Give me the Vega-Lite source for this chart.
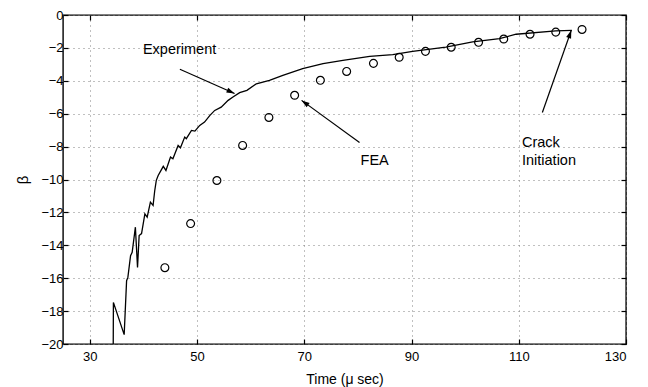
{
  "$schema": "https://vega.github.io/schema/vega-lite/v6.json",
  "width": 563,
  "height": 329,
  "autosize": "none",
  "padding": {"left": 63, "top": 15, "right": 22, "bottom": 43},
  "background": "white",
  "config": {
    "view": {"stroke": "black", "strokeWidth": 1.4},
    "axis": {
      "domain": false,
      "labelFont": "Liberation Sans",
      "labelFontSize": 13,
      "labelColor": "black",
      "titleFont": "Liberation Sans",
      "titleFontSize": 14,
      "titleFontWeight": "normal",
      "titleColor": "black",
      "tickColor": "black",
      "tickSize": -5,
      "tickWidth": 1.2,
      "gridColor": "#808080",
      "gridDash": [1, 4],
      "gridWidth": 1
    }
  },
  "datasets": {
    "experiment": [
      {"t": 34.37, "beta": -20.0},
      {"t": 34.4, "beta": -17.47},
      {"t": 36.41, "beta": -19.43},
      {"t": 36.86, "beta": -16.15},
      {"t": 37.1, "beta": -15.95},
      {"t": 37.6, "beta": -14.63},
      {"t": 37.9, "beta": -14.42},
      {"t": 38.5, "beta": -12.9},
      {"t": 38.9, "beta": -15.34},
      {"t": 39.2, "beta": -13.41},
      {"t": 39.65, "beta": -13.29},
      {"t": 40.27, "beta": -12.09},
      {"t": 40.7, "beta": -12.29},
      {"t": 41.3, "beta": -11.38},
      {"t": 41.8, "beta": -11.58},
      {"t": 42.1, "beta": -10.7},
      {"t": 42.4, "beta": -10.05},
      {"t": 42.75, "beta": -9.76},
      {"t": 43.7, "beta": -9.2},
      {"t": 44.2, "beta": -9.45},
      {"t": 45.05, "beta": -8.64},
      {"t": 45.5, "beta": -8.74},
      {"t": 46.47, "beta": -7.93},
      {"t": 46.9, "beta": -8.07},
      {"t": 47.7, "beta": -7.42},
      {"t": 48.0, "beta": -7.52},
      {"t": 48.96, "beta": -7.02},
      {"t": 49.6, "beta": -7.06},
      {"t": 50.5, "beta": -6.71},
      {"t": 51.4, "beta": -6.51},
      {"t": 52.4, "beta": -6.1},
      {"t": 53.3, "beta": -5.8},
      {"t": 54.5, "beta": -5.6},
      {"t": 55.8, "beta": -5.19},
      {"t": 56.7, "beta": -4.99},
      {"t": 57.95, "beta": -4.72},
      {"t": 59.3, "beta": -4.58},
      {"t": 61.06, "beta": -4.18},
      {"t": 63.5, "beta": -3.97},
      {"t": 66.0, "beta": -3.67},
      {"t": 69.7, "beta": -3.26},
      {"t": 73.5, "beta": -2.96},
      {"t": 77.2, "beta": -2.76},
      {"t": 82.2, "beta": -2.51},
      {"t": 86.5, "beta": -2.41},
      {"t": 90.2, "beta": -2.21},
      {"t": 96.4, "beta": -1.95},
      {"t": 101.4, "beta": -1.64},
      {"t": 106.4, "beta": -1.44},
      {"t": 109.5, "beta": -1.17},
      {"t": 116.9, "beta": -0.97},
      {"t": 119.9, "beta": -0.93}
    ],
    "fea": [
      {"t": 44.0, "beta": -15.36},
      {"t": 48.8, "beta": -12.68},
      {"t": 53.7, "beta": -10.06},
      {"t": 58.5, "beta": -7.93},
      {"t": 63.4, "beta": -6.23},
      {"t": 68.2, "beta": -4.88},
      {"t": 73.0, "beta": -3.97},
      {"t": 77.9, "beta": -3.43},
      {"t": 82.9, "beta": -2.94},
      {"t": 87.7, "beta": -2.57},
      {"t": 92.6, "beta": -2.21},
      {"t": 97.4, "beta": -1.96},
      {"t": 102.5, "beta": -1.66},
      {"t": 107.2, "beta": -1.46},
      {"t": 112.1, "beta": -1.17},
      {"t": 116.9, "beta": -1.04},
      {"t": 121.8, "beta": -0.88}
    ],
    "arrows": [
      {"name": "Experiment", "t": 46.8, "beta": -3.3, "t2": 57.0, "beta2": -4.77},
      {"name": "FEA", "t": 80.3, "beta": -7.75, "t2": 69.5, "beta2": -5.19},
      {"name": "Crack", "t": 114.4, "beta": -5.93, "t2": 119.8, "beta2": -0.93}
    ],
    "labels": [
      {"t": 39.9, "beta": -2.15, "text": "Experiment"},
      {"t": 80.5, "beta": -8.9, "text": "FEA"},
      {"t": 110.6, "beta": -7.8, "text": "Crack\nInitiation"}
    ]
  },
  "layer": [
    {
      "data": {"name": "experiment"},
      "mark": {"type": "line", "color": "black", "strokeWidth": 1.3, "clip": true},
      "encoding": {
        "x": {
          "field": "t", "type": "quantitative",
          "scale": {"domain": [25, 130], "nice": false, "zero": false},
          "axis": {
            "orient": "bottom",
            "values": [30, 50, 70, 90, 110, 130],
            "grid": true,
            "labelPadding": 11,
            "title": "Time (μ sec)",
            "titlePadding": 9
          }
        },
        "y": {
          "field": "beta", "type": "quantitative",
          "scale": {"domain": [-20, 0], "nice": false, "zero": false},
          "axis": {
            "orient": "left",
            "values": [-20, -18, -16, -14, -12, -10, -8, -6, -4, -2, 0],
            "grid": true,
            "labelPadding": 5,
            "title": "β",
            "titleAngle": -90,
            "titleFontSize": 15,
            "titlePadding": 10
          }
        }
      }
    },
    {
      "data": {"name": "fea"},
      "mark": {"type": "point", "shape": "circle", "filled": false, "color": "black", "size": 62, "strokeWidth": 1.2, "opacity": 1},
      "encoding": {
        "x": {"field": "t", "type": "quantitative", "axis": {"orient": "top", "values": [30, 50, 70, 90, 110, 130], "labels": false, "grid": false, "title": null}},
        "y": {"field": "beta", "type": "quantitative", "axis": {"orient": "right", "values": [-20, -18, -16, -14, -12, -10, -8, -6, -4, -2, 0], "labels": false, "grid": false, "title": null}}
      }
    },
    {
      "data": {"name": "arrows"},
      "mark": {"type": "rule", "color": "black", "strokeWidth": 1.2},
      "encoding": {
        "x": {"field": "t", "type": "quantitative", "axis": null},
        "y": {"field": "beta", "type": "quantitative", "axis": null},
        "x2": {"field": "t2"},
        "y2": {"field": "beta2"}
      }
    },
    {
      "data": {"name": "arrows"},
      "transform": [{"filter": "datum.name === 'Experiment'"}],
      "mark": {"type": "point", "shape": "M0,0L-0.32,1L0.32,1Z", "filled": true, "color": "black", "size": 260, "angle": 113.6, "opacity": 1},
      "encoding": {
        "x": {"field": "t2", "type": "quantitative", "axis": null},
        "y": {"field": "beta2", "type": "quantitative", "axis": null}
      }
    },
    {
      "data": {"name": "arrows"},
      "transform": [{"filter": "datum.name === 'FEA'"}],
      "mark": {"type": "point", "shape": "M0,0L-0.32,1L0.32,1Z", "filled": true, "color": "black", "size": 260, "angle": 305.9, "opacity": 1},
      "encoding": {
        "x": {"field": "t2", "type": "quantitative", "axis": null},
        "y": {"field": "beta2", "type": "quantitative", "axis": null}
      }
    },
    {
      "data": {"name": "arrows"},
      "transform": [{"filter": "datum.name === 'Crack'"}],
      "mark": {"type": "point", "shape": "M0,0L-0.32,1L0.32,1Z", "filled": true, "color": "black", "size": 260, "angle": 19.5, "opacity": 1},
      "encoding": {
        "x": {"field": "t2", "type": "quantitative", "axis": null},
        "y": {"field": "beta2", "type": "quantitative", "axis": null}
      }
    },
    {
      "data": {"name": "labels"},
      "mark": {"type": "text", "align": "left", "baseline": "middle", "font": "Liberation Sans", "fontSize": 14.5, "color": "black", "lineBreak": "\n", "lineHeight": 18},
      "encoding": {
        "x": {"field": "t", "type": "quantitative", "axis": null},
        "y": {"field": "beta", "type": "quantitative", "axis": null},
        "text": {"field": "text"}
      }
    }
  ]
}
